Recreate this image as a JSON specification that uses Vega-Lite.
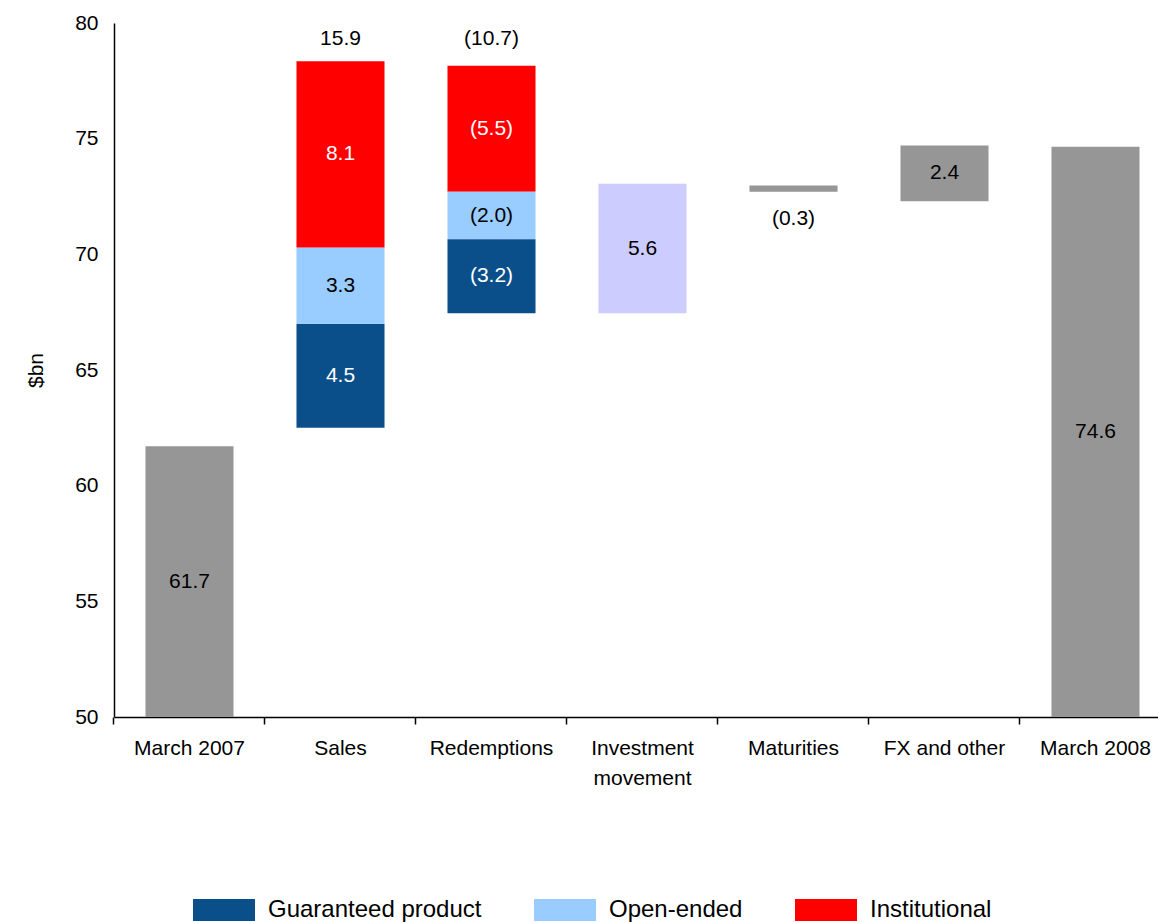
{
  "$schema": "https://vega.github.io/schema/vega-lite/v6.json",
  "width": 1044,
  "height": 694,
  "autosize": {"type": "none"},
  "padding": {"left": 114, "top": 23, "right": 0, "bottom": 205},
  "background": "white",
  "config": {"view": {"stroke": null}, "font": "Liberation Sans"},
  "datasets": {
    "bars": [
      {"category": "March 2007", "series": "Total", "start": 50, "end": 61.7, "label": "61.7"},
      {"category": "Sales", "series": "Guaranteed product", "start": 62.5, "end": 67.0, "label": "4.5"},
      {"category": "Sales", "series": "Open-ended", "start": 67.0, "end": 70.3, "label": "3.3"},
      {"category": "Sales", "series": "Institutional", "start": 70.3, "end": 78.35, "label": "8.1"},
      {"category": "Redemptions", "series": "Institutional", "start": 72.7, "end": 78.15, "label": "(5.5)"},
      {"category": "Redemptions", "series": "Open-ended", "start": 70.65, "end": 72.7, "label": "(2.0)"},
      {"category": "Redemptions", "series": "Guaranteed product", "start": 67.45, "end": 70.65, "label": "(3.2)"},
      {"category": "Investment movement", "series": "Investment", "start": 67.45, "end": 73.05, "label": "5.6"},
      {"category": "Maturities", "series": "Total", "start": 72.7, "end": 72.98, "label": "(0.3)"},
      {"category": "FX and other", "series": "Total", "start": 72.3, "end": 74.7, "label": "2.4"},
      {"category": "March 2008", "series": "Total", "start": 50, "end": 74.65, "label": "74.6"}
    ],
    "totals": [
      {"category": "Sales", "label": "15.9"},
      {"category": "Redemptions", "label": "(10.7)"}
    ]
  },
  "layer": [
    {
      "data": {"name": "bars"},
      "mark": {"type": "bar"},
      "encoding": {
        "x": {
          "field": "category",
          "type": "nominal",
          "sort": null,
          "scale": {
            "domain": ["March 2007", "Sales", "Redemptions", "Investment movement", "Maturities", "FX and other", "March 2008"],
            "range": [0, 1057],
            "paddingInner": 0.417,
            "paddingOuter": 0.2085
          },
          "axis": {
            "title": null,
            "labelAngle": 0,
            "labelFontSize": 21,
            "labelColor": "black",
            "labelPadding": 13,
            "labelBaseline": "top",
            "labelLineHeight": 30,
            "labelExpr": "datum.label == 'Investment movement' ? ['Investment', 'movement'] : datum.label",
            "domainColor": "black",
            "domainWidth": 1.5,
            "tickColor": "black",
            "tickWidth": 1.5,
            "tickSize": 7,
            "bandPosition": -0.358,
            "grid": false
          }
        },
        "y": {
          "field": "start",
          "type": "quantitative",
          "title": "$bn",
          "scale": {"domain": [50, 80], "nice": false, "zero": false},
          "axis": {
            "values": [50, 55, 60, 65, 70, 75, 80],
            "grid": false,
            "tickSize": 0,
            "labelPadding": 16,
            "labelFontSize": 21,
            "labelColor": "black",
            "domainColor": "black",
            "domainWidth": 1.5,
            "titleFontSize": 21,
            "titleFontWeight": "normal",
            "titleColor": "black",
            "titlePadding": 28
          }
        },
        "y2": {"field": "end"},
        "color": {
          "field": "series",
          "type": "nominal",
          "scale": {
            "domain": ["Guaranteed product", "Open-ended", "Institutional", "Total", "Investment"],
            "range": ["#0B4F8A", "#99CCFF", "#FF0000", "#969696", "#CCCCFF"]
          },
          "legend": {
            "orient": "none",
            "legendX": 79,
            "legendY": 856,
            "direction": "horizontal",
            "title": null,
            "values": ["Guaranteed product", "Open-ended", "Institutional"],
            "symbolType": "M-1,-0.355L1,-0.355L1,0.355L-1,0.355Z",
            "symbolSize": 3844,
            "symbolStrokeWidth": 0,
            "symbolOpacity": 1,
            "labelFontSize": 24,
            "labelColor": "black",
            "labelLimit": 400,
            "labelOffset": 13,
            "columnPadding": 52,
            "padding": 0,
            "encode": {
              "symbols": {
                "enter": {
                  "fill": {"signal": "datum.value === 'Guaranteed product' ? '#1F497D' : datum.value === 'Open-ended' ? '#99CCFF' : '#FF3300'"}
                },
                "update": {
                  "fill": {"signal": "datum.value === 'Guaranteed product' ? '#1F497D' : datum.value === 'Open-ended' ? '#99CCFF' : '#FF3300'"}
                }
              }
            }
          }
        }
      }
    },
    {
      "data": {"name": "bars"},
      "transform": [
        {"filter": "datum.category !== 'Maturities'"},
        {"calculate": "(datum.start + datum.end) / 2", "as": "mid"}
      ],
      "mark": {"type": "text", "fontSize": 21, "baseline": "middle", "align": "center"},
      "encoding": {
        "x": {"field": "category", "type": "nominal", "sort": null},
        "y": {"field": "mid", "type": "quantitative"},
        "text": {"field": "label"},
        "color": {
          "condition": {"test": "datum.series === 'Guaranteed product' || datum.series === 'Institutional'", "value": "white"},
          "value": "black"
        }
      }
    },
    {
      "data": {"name": "bars"},
      "transform": [{"filter": "datum.category === 'Maturities'"}],
      "mark": {"type": "text", "fontSize": 21, "baseline": "top", "align": "center", "dy": 16, "color": "black"},
      "encoding": {
        "x": {"field": "category", "type": "nominal", "sort": null},
        "y": {"field": "start", "type": "quantitative"},
        "text": {"field": "label"}
      }
    },
    {
      "data": {"name": "totals"},
      "mark": {"type": "text", "fontSize": 21, "baseline": "top", "align": "center", "dy": 5, "color": "black"},
      "encoding": {
        "x": {"field": "category", "type": "nominal", "sort": null},
        "y": {"datum": 80, "type": "quantitative"},
        "text": {"field": "label"}
      }
    }
  ]
}
